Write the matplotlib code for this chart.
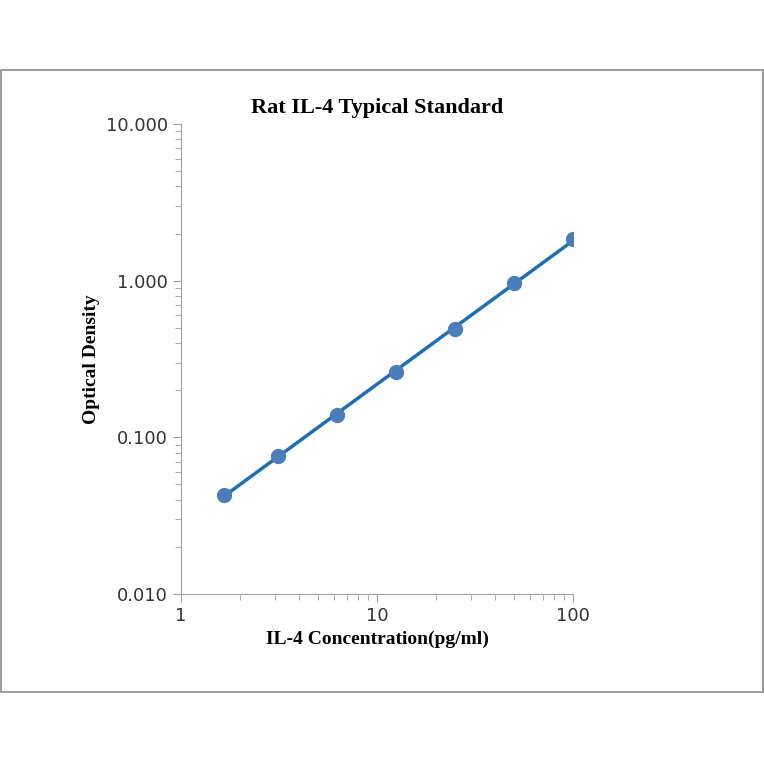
import matplotlib
matplotlib.use('Agg')
import matplotlib.pyplot as plt
import numpy as np
from matplotlib.patches import Rectangle
from matplotlib.ticker import FixedLocator, LogLocator, NullFormatter

conc = [1.65, 3.125, 6.25, 12.5, 25, 50, 100]
od = [0.043, 0.076, 0.139, 0.26, 0.495, 0.96, 1.85]
x_ticks = [1, 10, 100]
x_labels = ['1', '10', '100']
y_ticks = [0.01, 0.1, 1, 10]
y_labels = ['0.010', '0.100', '1.000', '10.000']

fig = plt.figure(figsize=(7.64, 7.64), dpi=100)
fig.patches.append(Rectangle((0.001, 1 - 692 / 764), 0.998, 622 / 764, transform=fig.transFigure,
                             fill=False, edgecolor='#8c8c8c', linewidth=1.2))
ax = fig.add_axes([181 / 764, 1 - 594 / 764, 392 / 764, 470 / 764])
ax.set_xscale('log')
ax.set_yscale('log')
ax.set_xlim(1, 100)
ax.set_ylim(0.01, 10)

# fitted line in log-log space
k, b = np.polyfit(np.log10(conc), np.log10(od), 1)
xf = np.array([conc[0], conc[-1]])
ax.plot(xf, 10 ** (k * np.log10(xf) + b), color='#1f6fb5', linewidth=2.5, zorder=2)
ax.plot(conc, od, 'o', color='#4a7ebb', markersize=10, zorder=3)

for s in ['top', 'right']:
    ax.spines[s].set_visible(False)
for s in ['left', 'bottom']:
    ax.spines[s].set_color('#a0a0a0')
ax.xaxis.set_major_locator(FixedLocator(x_ticks))
ax.set_xticklabels(x_labels)
ax.yaxis.set_major_locator(FixedLocator(y_ticks))
ax.set_yticklabels(y_labels)
for a in (ax.xaxis, ax.yaxis):
    a.set_minor_locator(LogLocator(base=10, subs=np.arange(2, 10)))
    a.set_minor_formatter(NullFormatter())
ax.tick_params(which='both', color='#a0a0a0', labelsize=13, labelcolor='#333333')
ax.tick_params(which='major', length=6)
ax.tick_params(which='minor', length=4)

serif = ['Liberation Serif', 'DejaVu Serif']
ax.set_title('Rat IL-4 Typical Standard', fontsize=16, fontweight='bold', family=serif, pad=8)
ax.set_xlabel('IL-4 Concentration(pg/ml)', fontsize=14, fontweight='bold', family=serif)
ax.set_ylabel('Optical Density', fontsize=14, fontweight='bold', family=serif)

fig.savefig('out.png', dpi=100)
